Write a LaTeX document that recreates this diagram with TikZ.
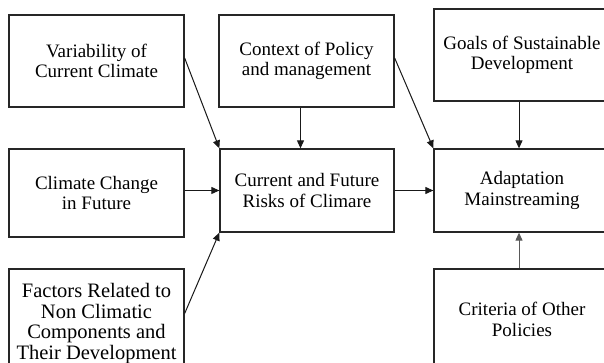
\documentclass[tikz,border=0pt]{standalone}
\usepackage{fontspec}
\setmainfont{Liberation Serif}
\usetikzlibrary{arrows.meta}
\begin{document}
\begin{tikzpicture}[x=1pt,y=-1pt,
  box/.style={draw=black!85,line width=1.3pt,rectangle,inner sep=0pt,align=center,
    font=\fontsize{19}{20.5}\selectfont},
  arr/.style={draw=black!90,line width=1pt,-{Triangle[length=8pt,width=7pt]}}]
\useasboundingbox (0,0) rectangle (604,363);
\fill[white] (0,0) rectangle (604,363);
\clip (0,0) rectangle (604,363);
\node[box,minimum width=175pt,minimum height=92pt] (var) at (96.5,61) {Variability of\\Current Climate};
\node[box,minimum width=175pt,minimum height=92pt] (ctx) at (306.5,61) {Context of Policy\\and management};
\node[box,minimum width=176pt,minimum height=92pt] (goal) at (522,55) {Goals of Sustainable\\Development};
\node[box,minimum width=175pt,minimum height=88pt] (cc) at (96.5,193) {Climate Change\\in Future};
\node[box,minimum width=174pt,minimum height=83pt] (cur) at (307,190.5) {Current and Future\\Risks of Climare};
\node[box,minimum width=176pt,minimum height=83pt] (ad) at (522,190.5) {Adaptation\\Mainstreaming};
\node[box,minimum width=175pt,minimum height=109pt,font=\fontsize{20.5}{20.7}\selectfont] (fac) at (96.5,323.5) {Factors Related to\\Non Climatic\\Components and\\Their Development};
\node[box,minimum width=176pt,minimum height=101pt] (crit) at (522,319.5) {Criteria of Other\\Policies};
\draw[arr] ([yshift=3pt]var.east) -- (cur.north west);
\draw[arr] ([xshift=-6pt]ctx.south) -- ([xshift=-6pt]ctx.south |- cur.north);
\draw[arr] (cur.west -| cc.east) -- (cur.west);
\draw[arr] ([yshift=10pt]fac.east) -- (cur.south west);
\draw[arr] ([yshift=3pt]ctx.east) -- (ad.north west);
\draw[arr] (cur.east) -- (ad.west);
\draw[arr] ([xshift=-3pt]goal.south) -- ([xshift=-3pt]goal.south |- ad.north);
\draw[arr,draw=black!65] ([xshift=-3pt]crit.north) -- ([xshift=-3pt]crit.north |- ad.south);
\end{tikzpicture}
\end{document}
